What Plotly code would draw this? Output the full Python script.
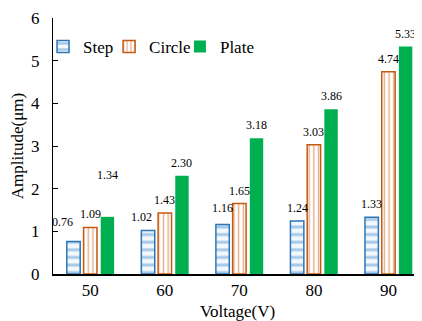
import plotly.graph_objects as go

categories = ["50", "60", "70", "80", "90"]
step = [0.76, 1.02, 1.16, 1.24, 1.33]
circle = [1.09, 1.43, 1.65, 3.03, 4.74]
plate = [1.34, 2.30, 3.18, 3.86, 5.33]
y_ticks = [0, 1, 2, 3, 4, 5, 6]

FONT = "'Liberation Serif', 'Times New Roman', Times, serif"
idx = list(range(len(categories)))
bar_w = 0.18
offsets = {"Step": -0.315, "Circle": -0.09, "Plate": 0.14}

fig = go.Figure()
fig.add_trace(go.Bar(
    name="Step", x=idx, y=step, width=bar_w, offset=offsets["Step"],
    marker=dict(color="#FFFFFF",
                line=dict(color="#2E75B6", width=1.5),
                pattern=dict(shape="-", fgcolor="#5B9BD5", bgcolor="#F3F8FC",
                             size=7.6, solidity=0.4)),
    legend="legend", showlegend=True,
))
fig.add_trace(go.Bar(
    name="Circle", x=idx, y=circle, width=bar_w, offset=offsets["Circle"],
    marker=dict(color="#FFFFFF",
                line=dict(color="#C55A11", width=1.5),
                pattern=dict(shape="|", fgcolor="#C55A11", bgcolor="#FFFFFF",
                             size=4.7, solidity=0.3)),
    legend="legend2", showlegend=True,
))
fig.add_trace(go.Bar(
    name="Plate", x=idx, y=plate, width=bar_w, offset=offsets["Plate"],
    marker=dict(color="#00B050", line=dict(color="#00B050", width=0)),
    legend="legend3", showlegend=True,
))

# label nudges (px) for labels the original moved to avoid overlap
nudge = {("Step", 0): (-11, 7), ("Step", 1): (-7, 0), ("Step", 2): (0, 4),
         ("Plate", 0): (0, 29)}

annotations = []
for name, vals in (("Step", step), ("Circle", circle), ("Plate", plate)):
    for i, v in enumerate(vals):
        dx, dy = nudge.get((name, i), (0, 0))
        annotations.append(dict(
            x=i + offsets[name] + bar_w / 2, y=v, xref="x", yref="y",
            text=f"{v:.2f}", showarrow=False, yanchor="bottom",
            xshift=dx, yshift=4 + dy,
            font=dict(family=FONT, size=12, color="#000000"),
        ))

leg_common = dict(orientation="h", yanchor="middle", xanchor="left", y=0.887,
                  bgcolor="rgba(0,0,0,0)", borderwidth=0,
                  font=dict(family=FONT, size=17, color="#000000"))
# page body adds an ~8px offset, so the figure is 8px smaller on each axis
fig.update_layout(
    width=414, height=313,
    margin=dict(l=45, r=0, t=10, b=47, autoexpand=False),
    paper_bgcolor="#FFFFFF", plot_bgcolor="#FFFFFF",
    barmode="overlay", showlegend=True,
    font=dict(family=FONT, size=17, color="#000000"),
    annotations=annotations,
    legend=dict(x=-0.027, **leg_common),
    legend2=dict(x=0.152, **leg_common),
    legend3=dict(x=0.344, **leg_common),
    xaxis=dict(
        range=[-0.5, 4.45], tickvals=idx, ticktext=categories,
        showline=True, linecolor="#000000", linewidth=1.5,
        ticks="", showgrid=False, zeroline=False, automargin=False,
        tickfont=dict(family=FONT, size=17),
        title=dict(text="Voltage(V)", font=dict(family=FONT, size=17), standoff=7),
    ),
    yaxis=dict(
        range=[0, 6], tickvals=y_ticks,
        showline=True, linecolor="#000000", linewidth=1,
        ticks="inside", ticklen=5, tickcolor="#000000",
        showgrid=False, zeroline=False, automargin=False,
        ticklabelstandoff=9,
        tickfont=dict(family=FONT, size=17),
        title=dict(text="Amplitude(μm)", font=dict(family=FONT, size=17), standoff=10),
    ),
)
fig.write_html("out.html")
